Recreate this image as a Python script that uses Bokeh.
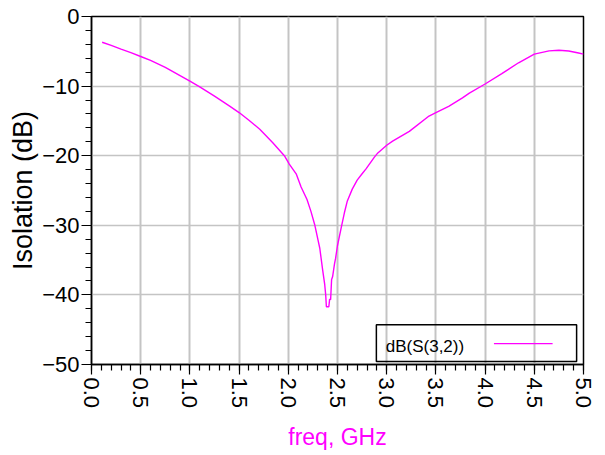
import math
from bokeh.plotting import figure
from bokeh.models import (Range1d, SingleIntervalTicker, BoxAnnotation, Label, Arrow)
from bokeh.embed import file_html
from bokeh.resources import INLINE

# ---- data ----
freq_ghz = [0.108, 0.2, 0.3, 0.4, 0.5, 0.6, 0.75, 0.9, 1.0, 1.1, 1.25, 1.4, 1.5,
            1.6, 1.71, 1.84, 1.96, 2.01, 2.08, 2.13, 2.19, 2.23, 2.27,
            2.30, 2.32, 2.35, 2.37, 2.38, 2.387, 2.40, 2.412, 2.42, 2.43, 2.44,
            2.45, 2.47, 2.48, 2.50, 2.54, 2.57, 2.60, 2.65, 2.70, 2.75, 2.79,
            2.875, 2.91, 3.0, 3.06, 3.23, 3.43, 3.5, 3.63, 3.77, 3.84, 4.0,
            4.17, 4.34, 4.5, 4.65, 4.75, 4.85, 4.95, 5.0]
s32_db = [-3.7, -4.15, -4.7, -5.2, -5.75, -6.3, -7.3, -8.5, -9.3, -10.1, -11.45,
          -12.85, -13.8, -14.9, -16.2, -18.1, -20.0, -21.2, -22.6, -24.5, -26.3,
          -28.0, -30.0, -32.0, -33.3, -36.5, -38.5, -40.0, -41.7,
          -41.7, -41.7, -40.6, -40.7, -37.8, -37.4, -35.5, -34.8, -32.9, -30.2,
          -28.2, -26.5, -24.8, -23.5, -22.6, -21.9, -20.2, -19.6, -18.5, -17.9,
          -16.5, -14.3, -13.8, -12.9, -11.7, -11.0, -9.7, -8.2, -6.65, -5.4,
          -4.94, -4.84, -4.95, -5.25, -5.4]
series_label = "dB(S(3,2))"
x_title = "freq, GHz"
y_title = "Isolation (dB)"

MAGENTA = "#ff00ff"
FONT = "Liberation Sans"

p = figure(width=600, height=453, output_backend="svg", toolbar_location=None,
           x_range=Range1d(0, 5), y_range=Range1d(-50, 0))
p.min_border_left = 91
p.min_border_top = 16
p.min_border_right = 17
p.min_border_bottom = 86
p.background_fill_color = "white"
p.border_fill_color = "white"
p.outline_line_color = "black"
p.outline_line_width = 1.5

p.line(freq_ghz, s32_db, line_color=MAGENTA, line_width=1.4)

# axes
p.xaxis.ticker = SingleIntervalTicker(interval=0.5, num_minor_ticks=5)
p.yaxis.ticker = SingleIntervalTicker(interval=10, num_minor_ticks=5)
p.xaxis.major_label_overrides = {i * 0.5: f"{i * 0.5:.1f}" for i in range(11)}
for ax in (p.xaxis[0], p.yaxis[0]):
    ax.axis_line_color = "black"
    ax.axis_line_width = 1.5
    ax.major_tick_line_color = "black"
    ax.minor_tick_line_color = "black"
    ax.major_tick_line_width = 1.2
    ax.minor_tick_line_width = 1.2
    ax.major_tick_in = 0
    ax.minor_tick_in = 0
    ax.major_tick_out = 10
    ax.minor_tick_out = 6
    ax.major_label_text_font = FONT
    ax.major_label_text_font_size = "22px"
    ax.major_label_text_color = "black"
    ax.axis_label_text_font_style = "normal"

p.xaxis.major_label_orientation = -math.pi / 2
p.xaxis.major_label_standoff = 3
p.yaxis.major_label_standoff = 2

p.xaxis.axis_label = x_title
p.xaxis.axis_label_text_color = MAGENTA
p.xaxis.axis_label_text_font = FONT
p.xaxis.axis_label_text_font_size = "23px"
p.xaxis.axis_label_standoff = 13

p.yaxis.axis_label = y_title
p.yaxis.axis_label_text_color = "black"
p.yaxis.axis_label_text_font = FONT
p.yaxis.axis_label_text_font_size = "27px"
p.yaxis.axis_label_standoff = 1

# grid
p.xgrid.grid_line_color = "#c4c4c4"
p.xgrid.grid_line_width = 2
p.ygrid.grid_line_color = "#c4c4c4"
p.ygrid.grid_line_width = 1.5

# legend box (transparent, line sample on the right of the text)
p.add_layout(BoxAnnotation(left=2.895, right=4.93, bottom=-49.57, top=-44.3,
                           fill_alpha=0, line_color="black", line_width=1.5,
                           line_alpha=1))
p.add_layout(Label(x=2.99, y=-47.35, text=series_label, text_font=FONT,
                   text_font_size="17px", text_color="black",
                   text_baseline="middle"))
p.add_layout(Arrow(end=None, start=None, x_start=4.09, y_start=-47.0,
                   x_end=4.686, y_end=-47.0, line_color=MAGENTA, line_width=1.4))

open("out.html", "w").write(file_html(p, INLINE))
